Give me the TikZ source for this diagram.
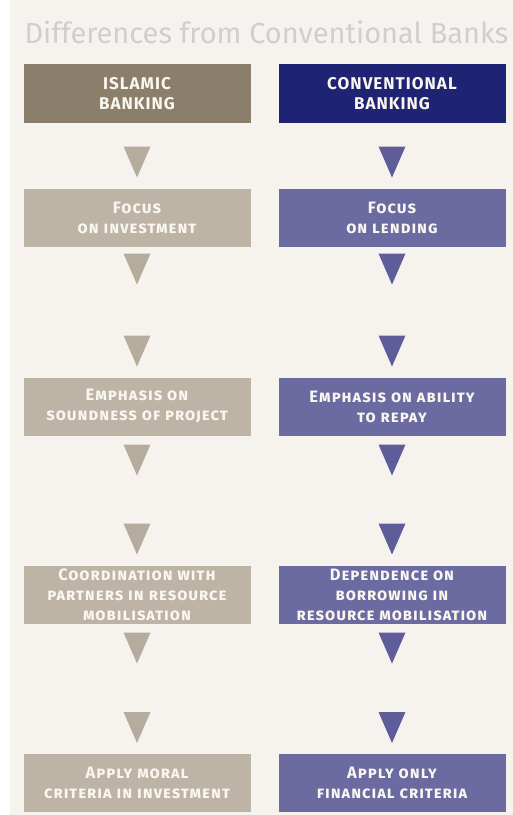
\documentclass[tikz,border=0pt]{standalone}
\usepackage{fontspec}
\setmainfont{Fira Sans}[LetterSpace=6]
\newfontfamily\titlefont{Fira Sans}
\usepackage{tikz}
\usetikzlibrary{positioning, shapes.geometric}

\definecolor{paper}{HTML}{F6F3EE}
\definecolor{titlegray}{HTML}{CFCFCF}
\definecolor{islamdark}{HTML}{8B7E6A}
\definecolor{convdark}{HTML}{1F2373}
\definecolor{islamlight}{HTML}{BEB4A5}
\definecolor{convlight}{HTML}{6B6AA1}
\definecolor{islamtri}{HTML}{B6AC9D}
\definecolor{convtri}{HTML}{5F5D99}
\definecolor{boxtext}{HTML}{FAF7F0}

\begin{document}
\begin{tikzpicture}[
        x=1pt, y=-1pt,
        every node/.style={inner sep=0pt, outer sep=0pt},
        head/.style={minimum width=227pt, minimum height=59pt, align=center,
                text=boxtext, font=\fontsize{17}{20}\selectfont\bfseries},
        card/.style={minimum width=227pt, minimum height=58pt, align=center,
                text=boxtext, font=\fontsize{16.5}{20}\selectfont\bfseries\scshape},
        tri/.style={isosceles triangle, isosceles triangle stretches,
                shape border rotate=270, minimum width=27pt, minimum height=31pt}
    ]

    \useasboundingbox (0,0) rectangle (513,815);
    \fill[paper] (10,0) rectangle (513,815);

    % Title
    \node[anchor=base, text=titlegray, font=\titlefont\fontsize{29}{29}\selectfont]
        (title) at (266.5,43) {Differences from Conventional Banks};

    % Headers
    \node[head, fill=islamdark] (islamhead) at (137,93.5) {ISLAMIC\\BANKING};
    \node[head, fill=convdark] (convhead) at (392,93.5) {CONVENTIONAL\\BANKING};

    % Left column
    \node[card, fill=islamlight] (islam1) at (137,217.5) {Focus\\on investment};
    \node[card, fill=islamlight] (islam2) at (137,406.5) {Emphasis on\\soundness of project};
    \node[card, fill=islamlight] (islam3) at (137,594.5) {Coordination with\\partners in resource\\mobilisation};
    \node[card, fill=islamlight] (islam4) at (137,783) {Apply moral\\criteria in investment};

    % Right column
    \node[card, fill=convlight] (conv1) at (392,217.5) {Focus\\on lending};
    \node[card, fill=convlight] (conv2) at (392,406.5) {Emphasis on ability\\to repay};
    \node[card, fill=convlight] (conv3) at (392,594.5) {Dependence on\\borrowing in\\resource mobilisation};
    \node[card, fill=convlight] (conv4) at (392,783) {Apply only\\financial criteria};

    % Arrows, left column
    \node[tri, fill=islamtri, above=11pt of islam1] (ia0) {};
    \node[tri, fill=islamtri, below=7pt of islam1] (ia1) {};
    \node[tri, fill=islamtri, above=11pt of islam2] (ib1) {};
    \node[tri, fill=islamtri, below=9pt of islam2] (ia2) {};
    \node[tri, fill=islamtri, above=11pt of islam3] (ib2) {};
    \node[tri, fill=islamtri, below=9pt of islam3] (ia3) {};
    \node[tri, fill=islamtri, above=11pt of islam4] (ib3) {};

    % Arrows, right column
    \node[tri, fill=convtri, above=11pt of conv1] (ca0) {};
    \node[tri, fill=convtri, below=7pt of conv1] (ca1) {};
    \node[tri, fill=convtri, above=11pt of conv2] (cb1) {};
    \node[tri, fill=convtri, below=9pt of conv2] (ca2) {};
    \node[tri, fill=convtri, above=11pt of conv3] (cb2) {};
    \node[tri, fill=convtri, below=9pt of conv3] (ca3) {};
    \node[tri, fill=convtri, above=11pt of conv4] (cb3) {};

\end{tikzpicture}
\end{document}
